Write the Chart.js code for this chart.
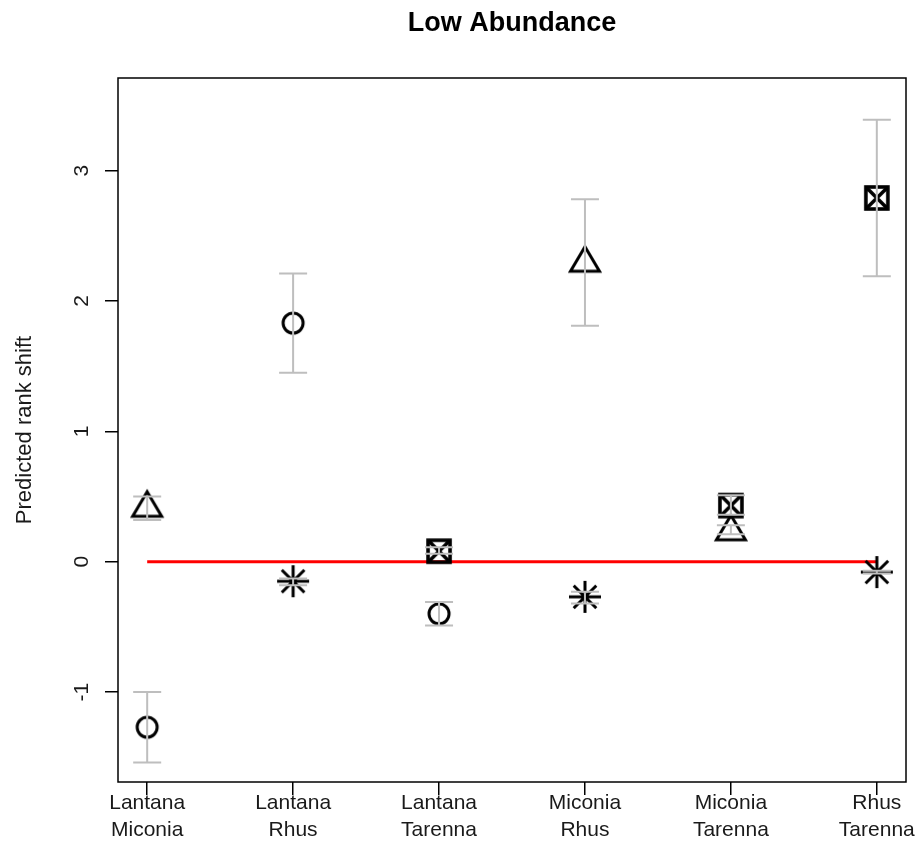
<!DOCTYPE html>
<html>
<head>
<meta charset="utf-8">
<title>Low Abundance</title>
<script src="https://cdn.jsdelivr.net/npm/chart.js@4.4.0/dist/chart.umd.min.js"></script>
<style>
  html, body { margin: 0; padding: 0; background: #fff; }
  #wrap { width: 924px; height: 848px; position: relative; }
</style>
</head>
<body>
<div id="wrap"><canvas id="chart"></canvas></div>
<script>
// species pairs on the x axis (one label per position 1..6)
const pairs = [['Lantana', 'Miconia'], ['Lantana', 'Rhus'], ['Lantana', 'Tarenna'],
               ['Miconia', 'Rhus'], ['Miconia', 'Tarenna'], ['Rhus', 'Tarenna']];
const yTicks = [-1, 0, 1, 2, 3];
const yMin = -1.69;
const yMax = 3.71;

// predicted rank shift, one list per symbol (null = not plotted at that pair)
const circleVals = [-1.27, 1.83, -0.40, null, null, null];
const circleLo   = [-1.54, 1.45, -0.49, null, null, null];
const circleHi   = [-1.00, 2.21, -0.31, null, null, null];

const triangleVals = [0.44, null, null, 2.32, 0.26, null];
const triangleLo   = [0.32, null, null, 1.81, 0.21, null];
const triangleHi   = [0.50, null, null, 2.78, 0.28, null];

const starVals = [null, -0.15, null, -0.27, null, -0.08];
const starLo   = [null, -0.18, null, -0.32, null, -0.09];
const starHi   = [null, -0.13, null, -0.23, null, -0.07];

const boxVals = [null, null, 0.08, null, 0.43, 2.79];
const boxLo   = [null, null, 0.06, null, 0.36, 2.19];
const boxHi   = [null, null, 0.11, null, 0.51, 3.39];

// reference line at zero, from first to last pair
const refX = [1, 6];
const refY = [0, 0];

function toPoints(vals) {
    const pts = [];
    vals.forEach((v, i) => { if (v !== null) pts.push({ x: i + 1, y: v }); });
    return pts;
}

function makeSymbol(draw) {
    const c = document.createElement('canvas');
    c.width = 44; c.height = 44;
    const g = c.getContext('2d');
    g.strokeStyle = '#000';
    g.lineWidth = 3;
    g.translate(22, 22);
    draw(g);
    return c;
}

const symCircle = makeSymbol(g => {
    g.beginPath(); g.arc(0, 0, 10, 0, Math.PI * 2); g.stroke();
});
const symTriangle = makeSymbol(g => {
    g.beginPath();
    g.moveTo(0, -12.5); g.lineTo(14.5, 12); g.lineTo(-14.5, 12); g.closePath();
    g.stroke();
});
const symStar = makeSymbol(g => {
    const a = 16, d = 11.3;
    g.beginPath();
    g.moveTo(-a, 0); g.lineTo(a, 0);
    g.moveTo(0, -a); g.lineTo(0, a);
    g.moveTo(-d, -d); g.lineTo(d, d);
    g.moveTo(-d, d); g.lineTo(d, -d);
    g.stroke();
});
const symBox = makeSymbol(g => {
    g.lineWidth = 3.6;
    g.strokeRect(-11, -11, 22, 22);
    g.beginPath();
    g.moveTo(-11, -11); g.lineTo(11, 11);
    g.moveTo(-11, 11); g.lineTo(11, -11);
    g.stroke();
});

const errorSets = [
    { lo: circleLo, hi: circleHi },
    { lo: triangleLo, hi: triangleHi },
    { lo: starLo, hi: starHi },
    { lo: boxLo, hi: boxHi }
];

const FONT = '"Liberation Sans", Arial, sans-serif';

// gray error bars drawn over the symbols, plus frame and all text
const rPlot = {
    id: 'rPlot',
    afterDatasetsDraw(chart) {
        const ctx = chart.ctx;
        const xs = chart.scales.x, ys = chart.scales.y;
        ctx.save();
        ctx.strokeStyle = '#bebebe';
        ctx.lineWidth = 2;
        errorSets.forEach(s => {
            s.lo.forEach((lo, i) => {
                const hi = s.hi[i];
                if (lo === null || hi === null) return;
                const x = xs.getPixelForValue(i + 1);
                const y1 = ys.getPixelForValue(lo), y2 = ys.getPixelForValue(hi);
                ctx.beginPath();
                ctx.moveTo(x, y1); ctx.lineTo(x, y2);
                ctx.moveTo(x - 14, y1); ctx.lineTo(x + 14, y1);
                ctx.moveTo(x - 14, y2); ctx.lineTo(x + 14, y2);
                ctx.stroke();
            });
        });
        ctx.restore();
    },
    afterDraw(chart) {
        const ctx = chart.ctx;
        const a = chart.chartArea;
        const xs = chart.scales.x, ys = chart.scales.y;
        ctx.save();
        ctx.strokeStyle = '#000';
        ctx.lineWidth = 1.5;
        ctx.strokeRect(a.left, a.top, a.right - a.left, a.bottom - a.top);

        ctx.fillStyle = '#000';
        ctx.textAlign = 'center';
        ctx.textBaseline = 'middle';
        ctx.font = 'bold 27px ' + FONT;
        ctx.fillText('Low Abundance', (a.left + a.right) / 2, 24);

        ctx.font = '21px ' + FONT;
        ctx.fillStyle = '#1a1a1a';
        pairs.forEach((p, i) => {
            const x = xs.getPixelForValue(i + 1);
            ctx.fillText(p[0], x, a.bottom + 21);
            ctx.fillText(p[1], x, a.bottom + 48);
        });

        yTicks.forEach(t => {
            const y = ys.getPixelForValue(t);
            ctx.save();
            ctx.translate(82, y);
            ctx.rotate(-Math.PI / 2);
            ctx.fillText(String(t), 0, 0);
            ctx.restore();
        });

        ctx.font = '22px ' + FONT;
        ctx.save();
        ctx.translate(25, (a.top + a.bottom) / 2);
        ctx.rotate(-Math.PI / 2);
        ctx.fillText('Predicted rank shift', 0, 0);
        ctx.restore();
        ctx.restore();
    }
};

const chart = new Chart(document.getElementById('chart').getContext('2d'), {
    type: 'scatter',
    data: {
        datasets: [
            { label: 'circle', data: toPoints(circleVals), pointStyle: symCircle, pointRadius: 10 },
            { label: 'triangle', data: toPoints(triangleVals), pointStyle: symTriangle, pointRadius: 10 },
            { label: 'star', data: toPoints(starVals), pointStyle: symStar, pointRadius: 10 },
            { label: 'box', data: toPoints(boxVals), pointStyle: symBox, pointRadius: 10 },
            {
                type: 'line', label: 'zero', order: 10,
                data: refX.map((x, i) => ({ x: x, y: refY[i] })),
                borderColor: '#ff0000', borderWidth: 3, pointRadius: 0, fill: false
            }
        ]
    },
    options: {
        responsive: true,
        maintainAspectRatio: false,
        animation: false,
        layout: { padding: { top: 78, right: 18, left: 0, bottom: 0 } },
        plugins: { legend: { display: false }, tooltip: { enabled: false } },
        scales: {
            x: {
                type: 'linear', min: 0.8, max: 6.2,
                afterBuildTicks: s => { s.ticks = pairs.map((p, i) => ({ value: i + 1 })); },
                afterFit: s => { s.height = 66; },
                border: { display: false },
                grid: { drawOnChartArea: false, drawTicks: true, tickLength: 13, color: '#000', lineWidth: 1.5 },
                ticks: { display: false }
            },
            y: {
                type: 'linear', min: yMin, max: yMax,
                afterBuildTicks: s => { s.ticks = yTicks.map(v => ({ value: v })); },
                afterFit: s => { s.width = 118; },
                border: { display: false },
                grid: { drawOnChartArea: false, drawTicks: true, tickLength: 13, color: '#000', lineWidth: 1.5 },
                ticks: { display: false }
            }
        }
    },
    plugins: [rPlot]
});
</script>
</body>
</html>
